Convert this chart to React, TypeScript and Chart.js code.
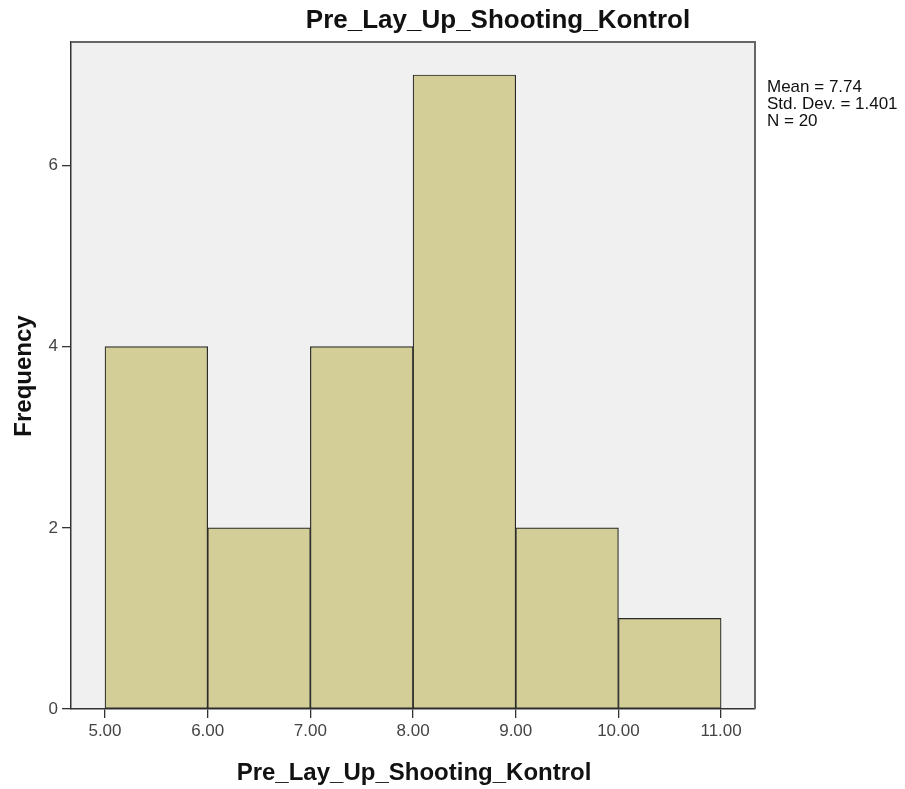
import React, { useEffect, useRef } from "react";
import { Chart, registerables } from "chart.js";

Chart.register(...registerables);

const CHART_TITLE = "Pre_Lay_Up_Shooting_Kontrol";
const X_TITLE = "Pre_Lay_Up_Shooting_Kontrol";
const Y_TITLE = "Frequency";
const BIN_EDGES = [5, 6, 7, 8, 9, 10, 11];
const FREQUENCIES = [4, 2, 4, 7, 2, 1];
const X_TICKS = [5, 6, 7, 8, 9, 10, 11];
const Y_TICKS = [0, 2, 4, 6];
const STATS_LINES = ["Mean = 7.74", "Std. Dev. = 1.401", "N = 20"];

const FONT = "'Liberation Sans', Arial, sans-serif";

const decorPlugin = {
  id: "decor",
  beforeDraw(chart: any) {
    const { ctx, chartArea } = chart;
    ctx.save();
    ctx.fillStyle = "#ffffff";
    ctx.fillRect(0, 0, chart.width, chart.height);
    ctx.fillStyle = "#f0f0f0";
    ctx.fillRect(chartArea.left, chartArea.top, chartArea.right - chartArea.left, chartArea.bottom - chartArea.top);
    ctx.restore();
  },
  afterDraw(chart: any) {
    const { ctx, chartArea } = chart;
    ctx.save();
    ctx.strokeStyle = "#666666";
    ctx.lineWidth = 2;
    ctx.beginPath();
    ctx.moveTo(chartArea.left, chartArea.top);
    ctx.lineTo(chartArea.right, chartArea.top);
    ctx.lineTo(chartArea.right, chartArea.bottom);
    ctx.stroke();

    ctx.fillStyle = "#111111";
    ctx.textAlign = "center";
    ctx.textBaseline = "alphabetic";
    ctx.font = `bold 26px ${FONT}`;
    ctx.fillText(CHART_TITLE, 498, 28);
    ctx.font = `bold 24px ${FONT}`;
    ctx.fillText(X_TITLE, 414, 780);
    ctx.save();
    ctx.translate(31, 376);
    ctx.rotate(-Math.PI / 2);
    ctx.font = `bold 24px ${FONT}`;
    ctx.textAlign = "center";
    ctx.textBaseline = "alphabetic";
    ctx.fillText(Y_TITLE, 0, 0);
    ctx.restore();
    ctx.font = `17px ${FONT}`;
    ctx.textAlign = "left";
    ctx.textBaseline = "alphabetic";
    STATS_LINES.forEach((s, i) => ctx.fillText(s, 767, 92 + i * 17));
    ctx.restore();
  },
};

export default function App() {
  const ref = useRef<HTMLCanvasElement>(null);
  useEffect(() => {
    const data = FREQUENCIES.map((f, i) => ({ x: (BIN_EDGES[i] + BIN_EDGES[i + 1]) / 2, y: f }));
    const chart = new Chart(ref.current as HTMLCanvasElement, {
      type: "bar",
      data: {
        datasets: [
          {
            data: data as any,
            backgroundColor: "#d3ce97",
            borderColor: "#2a2a2a",
            borderWidth: 1.2,
            borderSkipped: false,
            barPercentage: 1,
            categoryPercentage: 1,
          },
        ],
      },
      options: {
        animation: false,
        responsive: false,
        layout: { padding: { top: 42, right: 150, left: 0, bottom: 0 } },
        plugins: { legend: { display: false }, tooltip: { enabled: false }, title: { display: false } },
        scales: {
          x: {
            type: "linear",
            offset: false,
            min: 4.669,
            max: 11.33,
            afterFit: (s: any) => {
              s.height = 80;
            },
            afterBuildTicks: (s: any) => {
              s.ticks = X_TICKS.map((v) => ({ value: v }));
            },
            ticks: {
              callback: (v: any) => Number(v).toFixed(2),
              font: { family: FONT, size: 17 },
              color: "#444444",
              padding: 3,
              maxRotation: 0,
              autoSkip: false,
            },
            grid: { offset: false, drawOnChartArea: false, drawTicks: true, tickLength: 9, color: "#333333", lineWidth: 1.3 },
            border: { display: true, color: "#333333", width: 1.5 },
          },
          y: {
            type: "linear",
            min: 0,
            max: 7.364,
            afterFit: (s: any) => {
              s.width = 71;
            },
            afterBuildTicks: (s: any) => {
              s.ticks = Y_TICKS.map((v) => ({ value: v }));
            },
            ticks: {
              callback: (v: any) => String(v),
              font: { family: FONT, size: 17 },
              color: "#444444",
              padding: 4,
            },
            grid: { drawOnChartArea: false, drawTicks: true, tickLength: 9, color: "#333333", lineWidth: 1.3 },
            border: { display: true, color: "#333333", width: 1.5 },
          },
        },
      },
      plugins: [decorPlugin],
    } as any);
    return () => chart.destroy();
  }, []);
  return (
    <div style={{ position: "fixed", left: 0, top: 0, width: 905, height: 789, background: "#fff" }}>
      <canvas ref={ref} width={905} height={789} style={{ display: "block", width: 905, height: 789 }} />
    </div>
  );
}
